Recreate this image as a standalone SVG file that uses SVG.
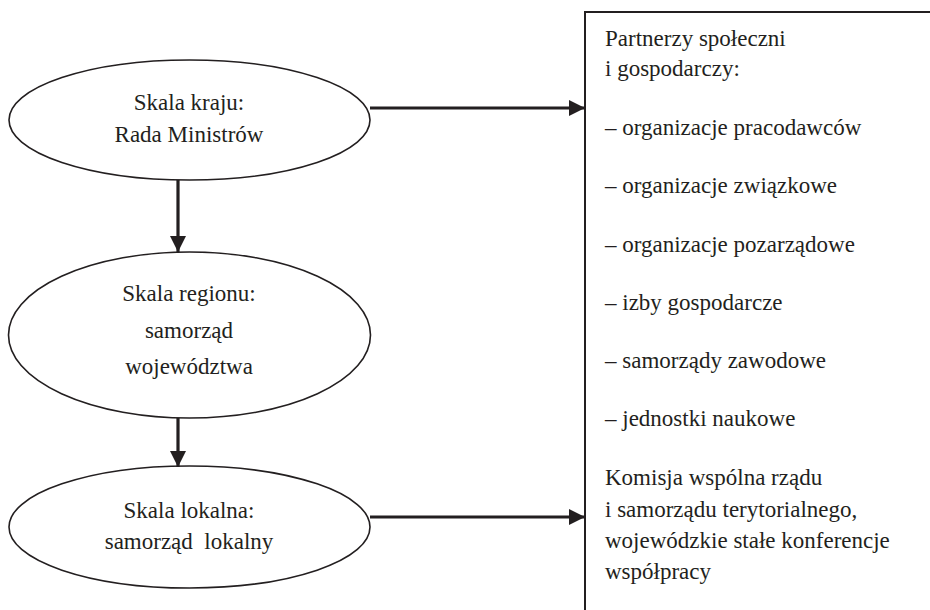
<svg xmlns="http://www.w3.org/2000/svg" width="930" height="610" viewBox="0 0 930 610">
<defs>
<style>
.node ellipse{fill:#fff;stroke:#231f20;stroke-width:1.6}
.box rect{fill:#fff;stroke:#231f20;stroke-width:2}
text{font-family:"Liberation Serif","Times New Roman",serif;font-size:23px;fill:#231f20}
.c{text-anchor:middle}
.pre{white-space:pre}
.conn line{stroke:#231f20;stroke-width:3.2}
</style>
<marker id="ah" markerUnits="userSpaceOnUse" markerWidth="16" markerHeight="16" viewBox="0 0 16 16" refX="16" refY="8" orient="auto">
<path d="M0,0 L16,8 L0,16 Z" fill="#231f20"/>
</marker>
</defs>
<rect width="930" height="610" fill="#fff"/>
<g id="n-partners" class="box">
<rect x="585" y="12" width="360" height="610"/>
<text x="605" y="46">Partnerzy społeczni</text>
<text x="605" y="76">i gospodarczy:</text>
<text x="605" y="135">– organizacje pracodawców</text>
<text x="605" y="193">– organizacje związkowe</text>
<text x="605" y="252">– organizacje pozarządowe</text>
<text x="605" y="310">– izby gospodarcze</text>
<text x="605" y="368">– samorządy zawodowe</text>
<text x="605" y="426">– jednostki naukowe</text>
<text x="605" y="485">Komisja wspólna rządu</text>
<text x="605" y="517">i samorządu terytorialnego,</text>
<text x="605" y="548">wojewódzkie stałe konferencje</text>
<text x="605" y="579">współpracy</text>
</g>
<g id="n-kraj" class="node">
<ellipse cx="189.5" cy="120" rx="180.5" ry="60"/>
<text class="c" x="189" y="110">Skala kraju:</text>
<text class="c" x="189" y="142">Rada Ministrów</text>
</g>
<g id="n-region" class="node">
<ellipse cx="189.5" cy="335" rx="181" ry="83"/>
<text class="c" x="189" y="301">Skala regionu:</text>
<text class="c" x="189" y="338">samorząd</text>
<text class="c" x="189" y="374">województwa</text>
</g>
<g id="n-lokal" class="node">
<ellipse cx="189.5" cy="527" rx="180.5" ry="61"/>
<text class="c" x="189" y="518">Skala lokalna:</text>
<text class="c pre" x="189" y="549" xml:space="preserve">samorząd  lokalny</text>
</g>
<g id="connectors" class="conn">
<line x1="370" y1="108" x2="585" y2="108" marker-end="url(#ah)"/>
<line x1="178" y1="180" x2="178" y2="252" marker-end="url(#ah)"/>
<line x1="178" y1="418" x2="178" y2="467" marker-end="url(#ah)"/>
<line x1="370" y1="517" x2="585" y2="517" marker-end="url(#ah)"/>
</g>
</svg>
